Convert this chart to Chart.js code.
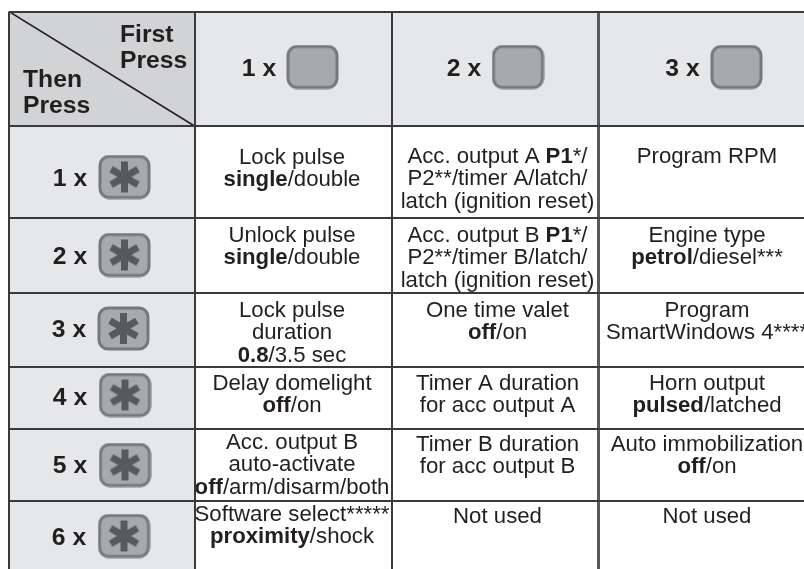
<!DOCTYPE html>
<html>
<head>
<meta charset="utf-8">
<title>Programming table</title>
<script src="https://cdn.jsdelivr.net/npm/chart.js@4"></script>
<style>
  html, body { margin: 0; padding: 0; background: #fff; overflow: hidden; }
  canvas { display: block; }
</style>
</head>
<body>
<canvas id="table-chart" width="804" height="569"></canvas>
<script>
// Table content
const cornerFirst = ['First', 'Press'];
const cornerThen = ['Then', 'Press'];
const firstPress = ['1 x', '2 x', '3 x'];
const thenPress = ['1 x', '2 x', '3 x', '4 x', '5 x', '6 x'];

const firstPressOnce = [
  ['Lock pulse', '<b>single</b>/double'],
  ['Unlock pulse', '<b>single</b>/double'],
  ['Lock pulse', 'duration', '<b>0.8</b>/3.5 sec'],
  ['Delay domelight', '<b>off</b>/on'],
  ['Acc. output B', 'auto-activate', '<b>off</b>/arm/disarm/both'],
  ['Software select*****', '<b>proximity</b>/shock']
];
const firstPressTwice = [
  ['Acc. output A <b>P1</b>*/', 'P2**/timer A/latch/', 'latch (ignition reset)'],
  ['Acc. output B <b>P1</b>*/', 'P2**/timer B/latch/', 'latch (ignition reset)'],
  ['One time valet', '<b>off</b>/on'],
  ['Timer A duration', 'for acc output A'],
  ['Timer B duration', 'for acc output B'],
  ['Not used']
];
const firstPressThrice = [
  ['Program RPM'],
  ['Engine type', '<b>petrol</b>/diesel***'],
  ['Program', 'SmartWindows 4****'],
  ['Horn output', '<b>pulsed</b>/latched'],
  ['Auto immobilization', '<b>off</b>/on'],
  ['Not used']
];

// Table structure, in scale units
const columnEdges = [9, 194.5, 392, 598.5];
const rowEdges = [11.5, 126, 217.5, 293, 366.5, 428.5, 500.5];
const xEnd = 804;
const yEnd = 569;

// Where things sit inside the cells
const columnTextX = [292, 497.5, 707];
const firstBaselines = [
  [164, 242, 317, 390, 449, 521],
  [163, 242, 317, 390, 451, 523],
  [163, 242, 317, 390, 451, 523]
];
const headerLabelX = [259, 464, 682.5];
const headerButtonX = [312.5, 518, 736.5];
const rowLabelX = [70, 70, 69, 70, 70, 69];
const rowLabelBaseline = [185.5, 264, 337, 405, 473, 545];
const rowButtonX = [124.5, 124.5, 123.5, 125, 125, 124];
const rowButtonY = [177, 255, 328.5, 395, 465, 536];

const TEXT = '#231f20';
const FONT = '"Liberation Sans", Arial, sans-serif';
const CELL_SIZE = 22.2;
const HEAD_SIZE = 24.7;
const LINE = 22.3;

// Button icons used as point styles
function makeButton(withStar) {
  const c = document.createElement('canvas');
  c.width = 53;
  c.height = 45;
  const g = c.getContext('2d');
  g.beginPath();
  g.roundRect(2, 2, 49, 41, 9);
  g.fillStyle = '#a7a9ac';
  g.fill();
  g.lineWidth = 3;
  g.strokeStyle = '#77787b';
  g.stroke();
  if (withStar) {
    g.strokeStyle = '#58595b';
    g.lineWidth = 7;
    [90, 30, 150].forEach(deg => {
      const a = deg * Math.PI / 180;
      g.beginPath();
      g.moveTo(26.5 - 15.5 * Math.cos(a), 22.5 - 15.5 * Math.sin(a));
      g.lineTo(26.5 + 15.5 * Math.cos(a), 22.5 + 15.5 * Math.sin(a));
      g.stroke();
    });
  }
  return c;
}

function fillBlock(color, x0, x1, y0, y1) {
  return {
    data: [{ x: x0, y: y1 }, { x: x1, y: y1 }],
    showLine: true,
    borderWidth: 0,
    pointRadius: 0,
    backgroundColor: color,
    fill: { value: y0 }
  };
}

// Writes one line, bold parts marked with <b>, centred on x
function drawRichLine(ctx, line, x, y, size) {
  const parts = line.split(/(<b>.*?<\/b>)/).filter(p => p).map(p => ({
    bold: p.startsWith('<b>'),
    text: p.replace(/<\/?b>/g, '')
  }));
  let width = 0;
  parts.forEach(p => {
    ctx.font = `${p.bold ? 'bold ' : ''}${size}px ${FONT}`;
    p.width = ctx.measureText(p.text).width;
    width += p.width;
  });
  let cx = x - width / 2;
  parts.forEach(p => {
    ctx.font = `${p.bold ? 'bold ' : ''}${size}px ${FONT}`;
    ctx.fillText(p.text, cx, y);
    cx += p.width;
  });
}

const tableText = {
  id: 'tableText',
  afterDatasetsDraw(chart) {
    const ctx = chart.ctx;
    const px = v => chart.scales.x.getPixelForValue(v);
    const py = v => chart.scales.y.getPixelForValue(v);
    ctx.save();
    ctx.fillStyle = TEXT;
    ctx.textBaseline = 'alphabetic';
    ctx.textAlign = 'left';

    [firstPressOnce, firstPressTwice, firstPressThrice].forEach((cells, col) => {
      cells.forEach((lines, row) => {
        lines.forEach((line, i) => {
          drawRichLine(ctx, line, px(columnTextX[col]), py(firstBaselines[col][row] + i * LINE), CELL_SIZE);
        });
      });
    });

    ctx.font = `bold ${HEAD_SIZE}px ${FONT}`;
    ctx.textAlign = 'center';
    firstPress.forEach((label, i) => {
      ctx.fillText(label, px(headerLabelX[i]), py(76));
    });
    thenPress.forEach((label, i) => {
      ctx.fillText(label, px(rowLabelX[i]), py(rowLabelBaseline[i]));
    });

    ctx.textAlign = 'left';
    ctx.fillText(cornerFirst[0], px(120), py(42));
    ctx.fillText(cornerFirst[1], px(120), py(68));
    ctx.fillText(cornerThen[0], px(23), py(87));
    ctx.fillText(cornerThen[1], px(23), py(113));
    ctx.restore();
  }
};

new Chart(document.getElementById('table-chart'), {
  type: 'scatter',
  data: {
    // later datasets are painted first, so the fills go at the end
    datasets: [
      {
        data: headerButtonX.map(x => ({ x: x, y: 67 })),
        pointStyle: makeButton(false),
        pointRadius: 22
      },
      {
        data: rowButtonX.map((x, i) => ({ x: x, y: rowButtonY[i] })),
        pointStyle: makeButton(true),
        pointRadius: 22
      },
      {
        // corner diagonal
        data: [{ x: columnEdges[0], y: rowEdges[0] }, { x: columnEdges[1], y: rowEdges[1] }],
        showLine: true,
        borderColor: '#231f20',
        borderWidth: 1.5,
        pointRadius: 0
      },
      fillBlock('#d1d3d4', columnEdges[0], columnEdges[1], rowEdges[0], rowEdges[1]),
      fillBlock('#e6e7e8', columnEdges[0], xEnd, rowEdges[0], rowEdges[1]),
      fillBlock('#e6e7e8', columnEdges[0], columnEdges[1], rowEdges[1], yEnd)
    ]
  },
  options: {
    responsive: false,
    animation: false,
    events: [],
    layout: { autoPadding: false, padding: { left: 9, top: 11.5, right: 0, bottom: 0 } },
    plugins: { legend: { display: false }, tooltip: { enabled: false }, title: { display: false } },
    scales: {
      x: {
        type: 'linear',
        min: columnEdges[0],
        max: xEnd,
        afterBuildTicks: axis => { axis.ticks = columnEdges.map(v => ({ value: v })); },
        ticks: { display: false },
        border: { display: false },
        grid: {
          z: 1,
          drawTicks: false,
          color: ctx => (ctx.index === 3 ? '#58595b' : '#3a3a3c'),
          lineWidth: ctx => (ctx.index === 3 ? 3 : 2)
        }
      },
      y: {
        type: 'linear',
        reverse: true,
        min: rowEdges[0],
        max: yEnd,
        afterBuildTicks: axis => { axis.ticks = rowEdges.map(v => ({ value: v })); },
        ticks: { display: false },
        border: { display: false },
        grid: { z: 1, drawTicks: false, color: '#3a3a3c', lineWidth: 2 }
      }
    }
  },
  plugins: [tableText]
});
</script>
</body>
</html>
